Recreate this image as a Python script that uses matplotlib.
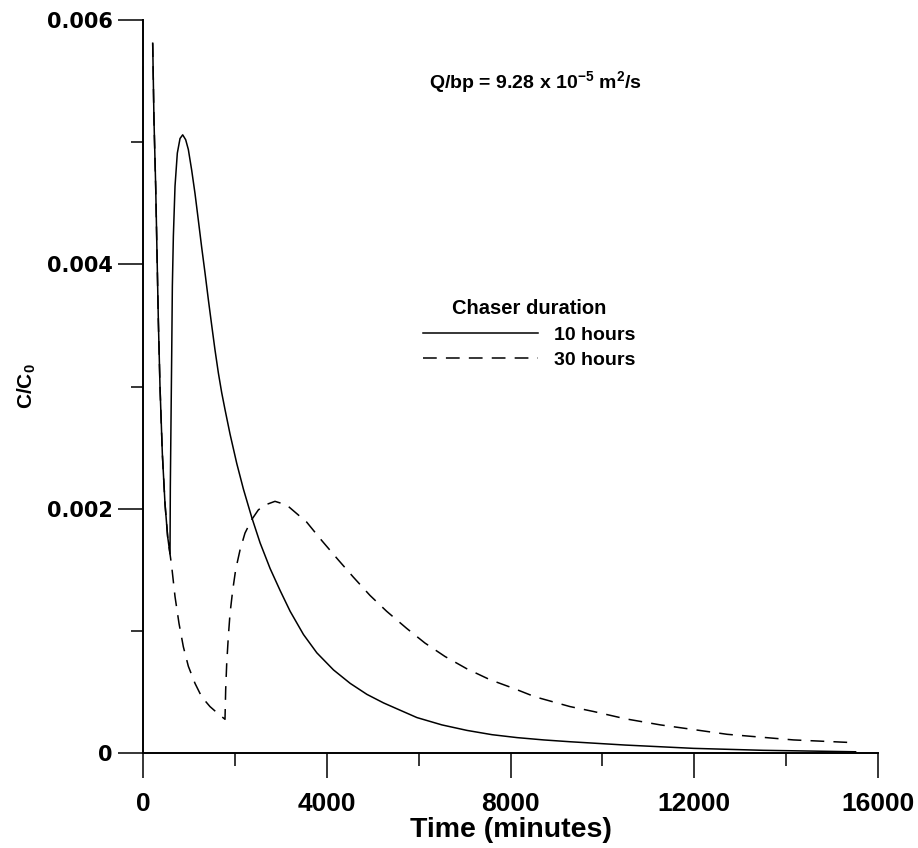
import matplotlib
matplotlib.use("Agg")
import matplotlib.pyplot as plt
from matplotlib.lines import Line2D
from matplotlib.ticker import MultipleLocator, FixedLocator

plt.rcParams['font.family'] = ['Liberation Sans', 'DejaVu Sans']
plt.rcParams['mathtext.fontset'] = 'custom'
plt.rcParams['mathtext.rm'] = 'Liberation Sans:bold'
plt.rcParams['mathtext.bf'] = 'Liberation Sans:bold'
plt.rcParams['mathtext.it'] = 'Liberation Sans:bold'
plt.rcParams['mathtext.default'] = 'bf'

# ---- data ----
t_10h = [211, 239, 276, 305, 334, 370, 421, 479, 537, 588, 595, 610, 625, 639,
         661, 697, 747, 806, 864, 929, 987, 1060, 1132, 1205, 1277, 1350, 1423,
         1496, 1567, 1641, 1713, 1786, 1895, 2041, 2186, 2366, 2549, 2767, 2985,
         3203, 3493, 3784, 4147, 4510, 4874, 5236, 5599, 5963, 6507, 7052, 7597,
         8142, 8723, 9303, 10500, 11983, 13500, 15512]
c_10h = [0.00581, 0.00518, 0.00464, 0.00409, 0.00354, 0.00300, 0.00245, 0.00204,
         0.00177, 0.00163, 0.00218, 0.00273, 0.00327, 0.00382, 0.00423, 0.00464,
         0.00491, 0.00503, 0.00506, 0.00502, 0.00494, 0.00477, 0.00458, 0.00436,
         0.00414, 0.00393, 0.00371, 0.00350, 0.00330, 0.00311, 0.00295, 0.00281,
         0.00261, 0.00237, 0.00216, 0.00193, 0.00172, 0.00151, 0.00133, 0.00116,
         0.00097, 0.00082, 0.00068, 0.00057, 0.00048, 0.00041, 0.00035, 0.00029,
         0.00023, 0.000185, 0.00015, 0.000126, 0.000107, 0.000092, 0.000065,
         0.000038, 0.000022, 0.00001]

t_30h = [211, 239, 276, 305, 334, 370, 421, 479, 537, 588, 624, 697, 784, 878,
         987, 1132, 1277, 1458, 1640, 1785, 1800, 1822, 1857, 1894, 1952, 2017,
         2111, 2220, 2366, 2511, 2656, 2873, 3128, 3563, 3889, 4252, 4578, 4941,
         5304, 5740, 6138, 6574, 7046, 7553, 8061, 8533, 9295, 9804, 10500, 11264,
         12716, 14161, 15512]
c_30h = [0.00581, 0.00518, 0.00464, 0.00409, 0.00354, 0.00300, 0.00245, 0.00204,
         0.00177, 0.00163, 0.00153, 0.00128, 0.00106, 0.00087, 0.00071, 0.00057,
         0.00046, 0.00038, 0.00032, 0.000276, 0.00052, 0.00073, 0.00095, 0.00114,
         0.00133, 0.00150, 0.00166, 0.00180, 0.00191, 0.00199, 0.00203, 0.00206,
         0.00203, 0.00189, 0.00174, 0.00158, 0.00144, 0.00129, 0.00116, 0.00102,
         0.00090, 0.00079, 0.00069, 0.00060, 0.00053, 0.00046, 0.00038, 0.00034,
         0.00028, 0.00023, 0.000153, 0.000107, 0.000084]

x_major = [0, 4000, 8000, 12000, 16000]
x_labels = ['0', '4000', '8000', '12000', '16000']
y_major = [0, 0.002, 0.004, 0.006]
y_labels = ['0', '0.002', '0.004', '0.006']
series_labels = ['10 hours', '30 hours']

# ---- figure ----
fig = plt.figure(figsize=(9.18, 8.48), dpi=100)
ax = fig.add_axes([143/918, 1-753/848, 735/918, 733/848])

ax.plot(t_10h, c_10h, color='black', lw=1.1, solid_joinstyle='round')
ax.plot(t_30h, c_30h, color='black', lw=1.1, dashes=(9, 6))

ax.set_xlim(0, 16000)
ax.set_ylim(0, 0.006)
for s in ['top', 'right']:
    ax.spines[s].set_visible(False)
for s in ['left', 'bottom']:
    ax.spines[s].set_linewidth(1.4)

ax.xaxis.set_major_locator(FixedLocator(x_major))
ax.set_xticklabels(x_labels)
ax.xaxis.set_minor_locator(MultipleLocator(2000))
ax.yaxis.set_major_locator(FixedLocator(y_major))
ax.set_yticklabels(y_labels)
ax.yaxis.set_minor_locator(MultipleLocator(0.001))

ax.tick_params(axis='both', which='major', direction='out', length=18, width=1.1)
ax.tick_params(axis='both', which='minor', direction='out', length=9, width=1.1)
ax.tick_params(axis='x', which='major', pad=10)
ax.tick_params(axis='y', which='major', pad=4)

for lab in ax.get_xticklabels():
    lab.set_fontsize(19)
    lab.set_fontweight('bold')
for lab in ax.get_yticklabels():
    lab.set_fontsize(15)
    lab.set_fontweight('bold')
    lab.set_family(['DejaVu Sans'])

ax.set_xlabel('Time (minutes)', fontsize=20.5, fontweight='bold', labelpad=1)
ax.set_ylabel(r'C/C$_0$', fontsize=15, fontweight='bold', labelpad=6)

ax.text(0.534, 0.915, r'Q/bp = 9.28 x 10$^{-5}$ m$^{2}$/s', transform=ax.transAxes,
        fontsize=14, fontweight='bold', ha='center', va='center')

handles = [Line2D([], [], color='black', lw=1.1),
           Line2D([], [], color='black', lw=1.1, dashes=(9, 6))]
leg = ax.legend(handles, series_labels, title='Chaser duration',
                loc='upper left', bbox_to_anchor=(0.381, 0.619),
                frameon=False, fontsize=14, handlelength=5.9,
                handletextpad=0.85, labelspacing=0.4, borderpad=0,
                borderaxespad=0)
leg.get_title().set_fontweight('bold')
leg.get_title().set_fontsize(14.5)
for txt in leg.get_texts():
    txt.set_fontweight('bold')

fig.savefig('out.png', dpi=100)
